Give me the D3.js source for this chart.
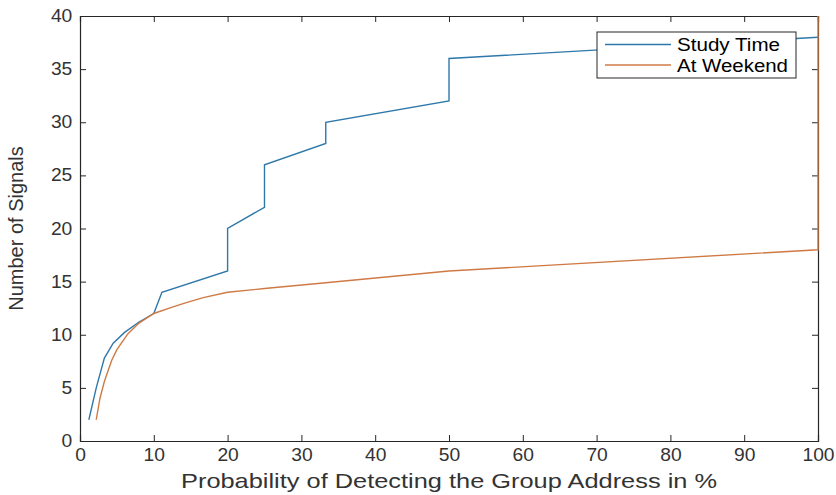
<!DOCTYPE html>
<html>
<head>
<meta charset="utf-8">
<script src="https://cdn.jsdelivr.net/npm/d3@7"></script>
<style>
  html, body { margin: 0; padding: 0; background: #fff; }
  svg { display: block; font-family: "Liberation Sans", Arial, sans-serif; }
</style>
</head>
<body>
<svg id="chart" width="836" height="495"></svg>
<script>
// Cumulative number of signals versus detection probability (%)
const studyX = [1.2, 2.2, 3.3, 4.5, 6.0, 8.0, 10.0, 11.1, 20.0, 20.0, 25.0, 25.0, 33.3, 33.3, 50.0, 50.0, 100.0];
const studyY = [2.0, 5.0, 7.8, 9.2, 10.2, 11.2, 12.0, 14.0, 16.0, 20.0, 22.0, 26.0, 28.0, 30.0, 32.0, 36.0, 38.0];

const weekendX = [2.2, 2.7, 3.3, 4.3, 5.0, 6.5, 8.0, 10.0, 12.5, 14.3, 16.7, 20.0, 25.0, 33.3, 50.0, 100.0, 100.0];
const weekendY = [2.0, 4.0, 5.6, 7.6, 8.6, 10.1, 11.1, 12.0, 12.6, 13.0, 13.5, 14.0, 14.35, 14.9, 16.0, 18.0, 40.0];

const seriesNames = ["Study Time", "At Weekend"];
const seriesColors = ["#2f78aa", "#cf7a45"];

const xTicks = [0, 10, 20, 30, 40, 50, 60, 70, 80, 90, 100];
const yTicks = [0, 5, 10, 15, 20, 25, 30, 35, 40];

const xLabel = "Probability of Detecting the Group Address in %";
const yLabel = "Number of Signals";

const svg = d3.select("#chart");
const margin = { left: 80, right: 18, top: 16, bottom: 54 };
const W = 836, H = 495;
const x = d3.scaleLinear().domain([0, 100]).range([margin.left, W - margin.right]);
const y = d3.scaleLinear().domain([0, 40]).range([H - margin.bottom, margin.top]);

const axisColor = "#262626";
const tickLen = 6;
const textStretch = 1.1;   // glyphs are drawn slightly wide

// Clip lines to the axes box (with a little slack so edge lines stay whole)
svg.append("clipPath").attr("id", "plotClip")
  .append("rect")
  .attr("x", x(0) - 2).attr("y", y(40) - 1)
  .attr("width", x(100) - x(0) + 4).attr("height", y(0) - y(40) + 2);

const line = d3.line().x(d => x(d[0])).y(d => y(d[1]));
const studyPts = studyX.map((v, i) => [v, studyY[i]]);
const weekendPts = weekendX.map((v, i) => [v, weekendY[i]]);

// Axes box with inward ticks on all four sides
const gx = svg.append("g").attr("transform", `translate(0,${y(0)})`)
  .call(d3.axisBottom(x).tickValues(xTicks).tickSize(-tickLen).tickPadding(8).tickFormat(d3.format("d")));
const gxTop = svg.append("g").attr("transform", `translate(0,${y(40)})`)
  .call(d3.axisTop(x).tickValues(xTicks).tickSize(-tickLen).tickFormat(""));
const gy = svg.append("g").attr("transform", `translate(${x(0)},0)`)
  .call(d3.axisLeft(y).tickValues(yTicks).tickSize(-tickLen).tickPadding(7).tickFormat(d3.format("d")));
const gyRight = svg.append("g").attr("transform", `translate(${x(100)},0)`)
  .call(d3.axisRight(y).tickValues(yTicks).tickSize(-tickLen).tickFormat(""));

[gx, gxTop, gy, gyRight].forEach(g => {
  g.select(".domain").attr("stroke", axisColor).attr("stroke-width", 1.2);
  g.selectAll(".tick line").attr("stroke", axisColor).attr("stroke-width", 1);
  g.selectAll(".tick text").attr("fill", "#333").style("font-size", "17.5px")
    .attr("transform", `scale(${textStretch},1)`);
});
// Ticks exactly at the box corners are covered by the frame
[gx, gxTop].forEach(g => g.selectAll(".tick line").filter(d => d === 0 || d === 100).remove());
[gy, gyRight].forEach(g => g.selectAll(".tick line").filter(d => d === 0 || d === 40).remove());

// Data lines
const plot = svg.append("g").attr("clip-path", "url(#plotClip)");
plot.append("path").datum(studyPts)
  .attr("fill", "none").attr("stroke", seriesColors[0]).attr("stroke-width", 1.4)
  .attr("d", line);
plot.append("path").datum(weekendPts)
  .attr("fill", "none").attr("stroke", seriesColors[1]).attr("stroke-width", 1.4)
  .attr("d", line);

// Axis labels
svg.append("text")
  .attr("x", (x(0) + x(100)) / 2).attr("y", 488)
  .attr("text-anchor", "middle").attr("fill", "#333")
  .attr("textLength", 536).attr("lengthAdjust", "spacingAndGlyphs")
  .style("font-size", "21px").text(xLabel);
svg.append("text")
  .attr("transform", `translate(23,${(y(0) + y(40)) / 2}) rotate(-90)`)
  .attr("text-anchor", "middle").attr("fill", "#333")
  .style("font-size", "20px").text(yLabel);

// Legend
const lg = svg.append("g").attr("transform", "translate(597,32)");
lg.append("rect").attr("width", 199).attr("height", 46)
  .attr("fill", "#fff").attr("stroke", axisColor).attr("stroke-width", 1);
const legendTextWidths = [103, 111];
seriesNames.forEach((name, i) => {
  const ly = 12.5 + i * 20.5;
  lg.append("line").attr("x1", 8).attr("x2", 74).attr("y1", ly).attr("y2", ly)
    .attr("stroke", seriesColors[i]).attr("stroke-width", 1.4);
  lg.append("text").attr("x", 80).attr("y", ly + 6.5)
    .attr("fill", "#000").style("font-size", "18px")
    .attr("textLength", legendTextWidths[i]).attr("lengthAdjust", "spacingAndGlyphs")
    .text(name);
});
</script>
</body>
</html>
